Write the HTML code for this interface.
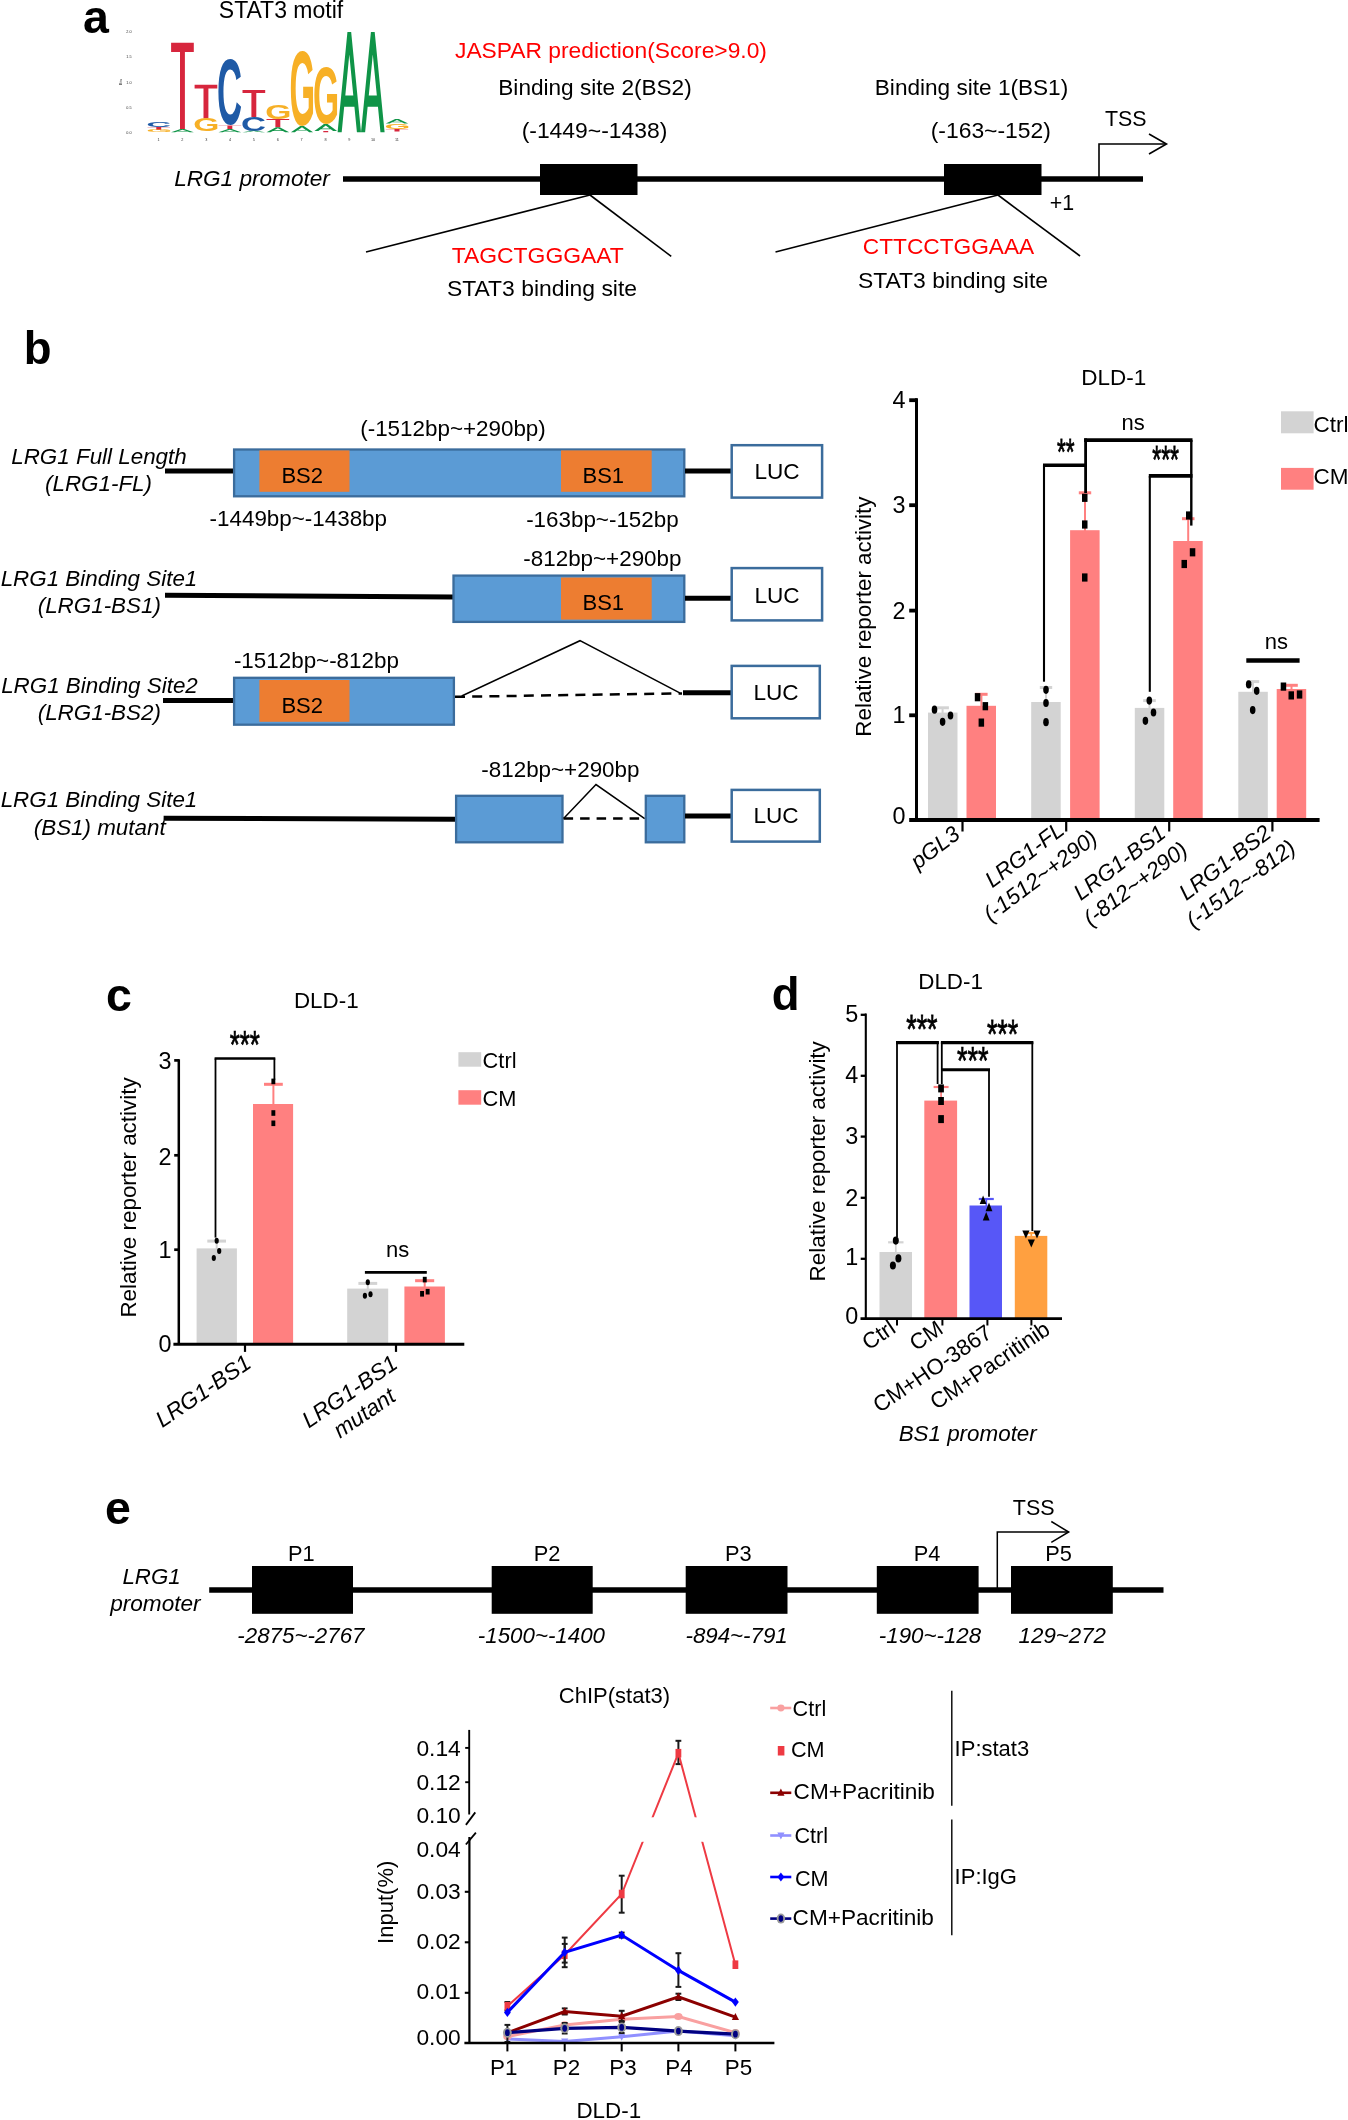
<!DOCTYPE html>
<html>
<head>
<meta charset="utf-8">
<title>LRG1 promoter STAT3 binding figure</title>
<style>
html,body{margin:0;padding:0;background:#fff;}
body{width:1348px;height:2120px;overflow:hidden;}
svg{display:block;font-family:"Liberation Sans",sans-serif;will-change:transform;}
</style>
</head>
<body>
<svg width="1348" height="2120" viewBox="0 0 1348 2120" fill="#000">
<rect x="0" y="0" width="1348" height="2120" fill="#fff"/>
<!-- panel a -->
<text x="83.1" y="32.6" font-size="46.5" font-weight="bold">a</text>
<text x="281.0" y="17.5" font-size="23" text-anchor="middle">STAT3 motif</text>
<text transform="translate(146.13,126.93) scale(0.3435,0.0676)" font-size="100" font-weight="bold" fill="#1f5aa6">C</text>
<polygon points="147.5,127.0 170.0,127.0 170.0,127.3 161.2,127.3 161.2,130.0 156.3,130.0 156.3,127.3 147.5,127.3" fill="#d7263d"/>
<text transform="translate(146.17,132.17) scale(0.3333,0.0310)" font-size="100" font-weight="bold" fill="#f7b026">G</text>
<polygon points="171.1,42.7 193.8,42.7 193.8,52.0 184.9,52.0 184.9,129.0 180.0,129.0 180.0,52.0 171.1,52.0" fill="#d7263d"/>
<path d="M171.10,132.20 L180.63,129.00 L184.27,129.00 L193.80,132.20 L189.83,132.20 L187.42,131.39 L177.48,131.39 L175.07,132.20 Z M182.45,129.72 L186.33,131.03 L178.57,131.03 Z" fill="#0f9447" fill-rule="evenodd"/>
<polygon points="194.6,84.8 217.3,84.8 217.3,88.4 208.4,88.4 208.4,118.4 203.5,118.4 203.5,88.4 194.6,88.4" fill="#d7263d"/>
<text transform="translate(193.25,131.02) scale(0.3363,0.1803)" font-size="100" font-weight="bold" fill="#f7b026">G</text>
<text transform="translate(217.11,124.47) scale(0.3466,0.9268)" font-size="100" font-weight="bold" fill="#1f5aa6">C</text>
<polygon points="218.5,125.4 241.2,125.4 241.2,125.8 232.3,125.8 232.3,129.0 227.4,129.0 227.4,125.8 218.5,125.8" fill="#d7263d"/>
<path d="M218.50,132.20 L228.03,129.00 L231.67,129.00 L241.20,132.20 L237.23,132.20 L234.82,131.39 L224.88,131.39 L222.47,132.20 Z M229.85,129.72 L233.73,131.03 L225.97,131.03 Z" fill="#0f9447" fill-rule="evenodd"/>
<polygon points="242.5,90.1 265.2,90.1 265.2,93.0 256.3,93.0 256.3,117.1 251.4,117.1 251.4,93.0 242.5,93.0" fill="#d7263d"/>
<text transform="translate(241.11,130.61) scale(0.3466,0.1930)" font-size="100" font-weight="bold" fill="#1f5aa6">C</text>
<path d="M242.50,132.20 L252.03,130.80 L255.67,130.80 L265.20,132.20 L261.23,132.20 L258.82,131.85 L248.88,131.85 L246.47,132.20 Z M253.85,131.12 L257.73,131.69 L249.97,131.69 Z" fill="#0f9447" fill-rule="evenodd"/>
<text transform="translate(265.15,118.90) scale(0.3363,0.1986)" font-size="100" font-weight="bold" fill="#f7b026">G</text>
<polygon points="266.5,119.1 289.2,119.1 289.2,120.0 280.3,120.0 280.3,127.2 275.4,127.2 275.4,120.0 266.5,120.0" fill="#d7263d"/>
<path d="M266.50,132.20 L276.03,127.20 L279.67,127.20 L289.20,132.20 L285.23,132.20 L282.82,130.94 L272.88,130.94 L270.47,132.20 Z M277.85,128.33 L281.73,130.36 L273.97,130.36 Z" fill="#0f9447" fill-rule="evenodd"/>
<text transform="translate(289.58,124.85) scale(0.3289,1.0549)" font-size="100" font-weight="bold" fill="#f7b026">G</text>
<path d="M290.90,132.20 L300.22,125.90 L303.78,125.90 L313.10,132.20 L309.22,132.20 L306.86,130.61 L297.14,130.61 L294.78,132.20 Z M302.00,127.33 L305.79,129.89 L298.21,129.89 Z" fill="#0f9447" fill-rule="evenodd"/>
<text transform="translate(313.05,123.11) scale(0.3363,0.7887)" font-size="100" font-weight="bold" fill="#f7b026">G</text>
<path d="M314.40,131.00 L323.93,123.90 L327.57,123.90 L337.10,131.00 L333.13,131.00 L330.72,129.20 L320.78,129.20 L318.37,131.00 Z M325.75,125.51 L329.63,128.39 L321.87,128.39 Z" fill="#0f9447" fill-rule="evenodd"/>
<polygon points="314.4,131.0 337.1,131.0 337.1,131.1 328.2,131.1 328.2,132.2 323.3,132.2 323.3,131.1 314.4,131.1" fill="#d7263d"/>
<path d="M337.60,132.20 L347.43,31.90 L351.17,31.90 L361.00,132.20 L356.91,132.20 L354.42,106.82 L344.18,106.82 L341.69,132.20 Z M349.30,54.59 L353.30,95.39 L345.30,95.39 Z" fill="#0f9447" fill-rule="evenodd"/>
<path d="M361.00,132.20 L370.91,31.90 L374.69,31.90 L384.60,132.20 L380.47,132.20 L377.96,106.82 L367.64,106.82 L365.13,132.20 Z M372.80,54.59 L376.83,95.39 L368.77,95.39 Z" fill="#0f9447" fill-rule="evenodd"/>
<path d="M385.80,123.50 L395.21,118.90 L398.79,118.90 L408.20,123.50 L404.28,123.50 L401.90,122.34 L392.10,122.34 L389.72,123.50 Z M397.00,119.94 L400.83,121.81 L393.17,121.81 Z" fill="#0f9447" fill-rule="evenodd"/>
<text transform="translate(384.47,128.92) scale(0.3319,0.0775)" font-size="100" font-weight="bold" fill="#f7b026">G</text>
<polygon points="385.8,129.0 408.2,129.0 408.2,129.3 399.5,129.3 399.5,131.5 394.5,131.5 394.5,129.3 385.8,129.3" fill="#d7263d"/>
<text x="129.0" y="134.0" font-size="3.8" text-anchor="middle" fill="#333">0.0</text>
<text x="129.0" y="108.8" font-size="3.8" text-anchor="middle" fill="#333">0.5</text>
<text x="129.0" y="83.6" font-size="3.8" text-anchor="middle" fill="#333">1.0</text>
<text x="129.0" y="58.4" font-size="3.8" text-anchor="middle" fill="#333">1.5</text>
<text x="129.0" y="33.2" font-size="3.8" text-anchor="middle" fill="#333">2.0</text>
<text transform="translate(122,82) rotate(-90)" font-size="3.8" text-anchor="middle" fill="#333">Bits</text>
<text x="158.5" y="141.0" font-size="3.8" text-anchor="middle" fill="#333">1</text>
<text x="182.3" y="141.0" font-size="3.8" text-anchor="middle" fill="#333">2</text>
<text x="206.2" y="141.0" font-size="3.8" text-anchor="middle" fill="#333">3</text>
<text x="230.1" y="141.0" font-size="3.8" text-anchor="middle" fill="#333">4</text>
<text x="253.9" y="141.0" font-size="3.8" text-anchor="middle" fill="#333">5</text>
<text x="277.8" y="141.0" font-size="3.8" text-anchor="middle" fill="#333">6</text>
<text x="301.6" y="141.0" font-size="3.8" text-anchor="middle" fill="#333">7</text>
<text x="325.5" y="141.0" font-size="3.8" text-anchor="middle" fill="#333">8</text>
<text x="349.3" y="141.0" font-size="3.8" text-anchor="middle" fill="#333">9</text>
<text x="373.1" y="141.0" font-size="3.8" text-anchor="middle" fill="#333">10</text>
<text x="397.0" y="141.0" font-size="3.8" text-anchor="middle" fill="#333">11</text>
<text x="455.0" y="57.5" font-size="22.8" fill="#ff0000">JASPAR prediction(Score&gt;9.0)</text>
<text x="595.0" y="95.0" font-size="22.6" text-anchor="middle">Binding site 2(BS2)</text>
<text x="594.5" y="137.5" font-size="22.9" text-anchor="middle">(-1449~-1438)</text>
<text x="971.5" y="95.0" font-size="22.6" text-anchor="middle">Binding site 1(BS1)</text>
<text x="990.8" y="137.5" font-size="22.9" text-anchor="middle">(-163~-152)</text>
<text x="1125.8" y="126.0" font-size="21.4" text-anchor="middle">TSS</text>
<text x="1062.0" y="210.0" font-size="21.4" text-anchor="middle">+1</text>
<text x="252.0" y="186.0" font-size="22.6" text-anchor="middle" font-style="italic">LRG1 promoter</text>
<line x1="343.0" y1="179.0" x2="1143.0" y2="179.0" stroke="#000" stroke-width="5.5"/>
<rect x="540.0" y="164.0" width="97.5" height="31.0" fill="#000"/>
<rect x="944.0" y="164.0" width="97.5" height="31.0" fill="#000"/>
<line x1="590.0" y1="195.0" x2="366.0" y2="252.0" stroke="#000" stroke-width="1.6"/>
<line x1="590.0" y1="195.0" x2="671.2" y2="256.3" stroke="#000" stroke-width="1.6"/>
<line x1="998.0" y1="195.0" x2="775.5" y2="252.0" stroke="#000" stroke-width="1.6"/>
<line x1="998.0" y1="195.0" x2="1080.0" y2="256.0" stroke="#000" stroke-width="1.6"/>
<polyline points="1099.0,179.0 1099.0,144.0 1166.0,144.0" fill="none" stroke="#000" stroke-width="1.6"/>
<polyline points="1149.0,134.0 1166.5,144.0 1149.0,154.0" fill="none" stroke="#000" stroke-width="1.6"/>
<text x="537.8" y="262.5" font-size="22.9" text-anchor="middle" fill="#ff0000">TAGCTGGGAAT</text>
<text x="542.0" y="296.2" font-size="22.9" text-anchor="middle">STAT3 binding site</text>
<text x="948.5" y="254.0" font-size="22.7" text-anchor="middle" fill="#ff0000">CTTCCTGGAAA</text>
<text x="953.0" y="287.5" font-size="22.9" text-anchor="middle">STAT3 binding site</text>
<!-- panel b -->
<text x="23.7" y="364.1" font-size="45.5" font-weight="bold">b</text>
<text x="99.0" y="464.0" font-size="22.4" text-anchor="middle" font-style="italic">LRG1 Full Length</text>
<text x="98.5" y="491.0" font-size="22.4" text-anchor="middle" font-style="italic">(LRG1-FL)</text>
<line x1="165.0" y1="471.0" x2="234.0" y2="471.0" stroke="#000" stroke-width="5"/>
<rect x="234.1" y="449.5" width="450.2" height="46.8" fill="#5b9bd5" stroke="#3b6c9c" stroke-width="2.3"/>
<rect x="259.4" y="450.4" width="90.1" height="41.4" fill="#ed7d31"/>
<text x="302.2" y="483.4" font-size="22" text-anchor="middle">BS2</text>
<rect x="561.0" y="450.4" width="90.7" height="41.4" fill="#ed7d31"/>
<text x="603.3" y="482.6" font-size="22" text-anchor="middle">BS1</text>
<text x="453.0" y="435.5" font-size="22.4" text-anchor="middle">(-1512bp~+290bp)</text>
<text x="298.3" y="526.0" font-size="22.4" text-anchor="middle">-1449bp~-1438bp</text>
<text x="602.4" y="526.6" font-size="22.4" text-anchor="middle">-163bp~-152bp</text>
<line x1="685.0" y1="471.0" x2="731.0" y2="471.0" stroke="#000" stroke-width="5"/>
<rect x="731.7" y="445.2" width="90.4" height="52.4" fill="#fff" stroke="#3b6c9c" stroke-width="2.5"/>
<text x="777.1" y="479.4" font-size="22.6" text-anchor="middle">LUC</text>
<text x="99.0" y="585.7" font-size="22.4" text-anchor="middle" font-style="italic">LRG1 Binding Site1</text>
<text x="99.3" y="612.7" font-size="22.4" text-anchor="middle" font-style="italic">(LRG1-BS1)</text>
<line x1="165.0" y1="595.3" x2="453.0" y2="597.0" stroke="#000" stroke-width="5"/>
<text x="602.4" y="565.5" font-size="22.4" text-anchor="middle">-812bp~+290bp</text>
<rect x="453.5" y="575.6" width="230.8" height="46.3" fill="#5b9bd5" stroke="#3b6c9c" stroke-width="2.3"/>
<rect x="561.0" y="577.5" width="90.7" height="42.1" fill="#ed7d31"/>
<text x="603.3" y="610.3" font-size="22" text-anchor="middle">BS1</text>
<line x1="685.0" y1="598.3" x2="731.0" y2="598.3" stroke="#000" stroke-width="5"/>
<rect x="731.7" y="568.1" width="90.4" height="52.3" fill="#fff" stroke="#3b6c9c" stroke-width="2.5"/>
<text x="777.1" y="603.0" font-size="22.6" text-anchor="middle">LUC</text>
<text x="316.4" y="668.4" font-size="22.4" text-anchor="middle">-1512bp~-812bp</text>
<text x="99.5" y="692.8" font-size="22.4" text-anchor="middle" font-style="italic">LRG1 Binding Site2</text>
<text x="99.3" y="720.0" font-size="22.4" text-anchor="middle" font-style="italic">(LRG1-BS2)</text>
<line x1="163.0" y1="700.4" x2="234.0" y2="700.4" stroke="#000" stroke-width="5"/>
<rect x="234.1" y="677.8" width="219.8" height="46.9" fill="#5b9bd5" stroke="#3b6c9c" stroke-width="2.3"/>
<rect x="259.4" y="680.0" width="90.1" height="41.8" fill="#ed7d31"/>
<text x="302.2" y="712.5" font-size="22" text-anchor="middle">BS2</text>
<line x1="455.0" y1="696.8" x2="682.0" y2="693.4" stroke="#000" stroke-width="2.5" stroke-dasharray="10 7.2"/>
<polyline points="461.7,696.0 580.0,640.7 679.7,692.8" fill="none" stroke="#000" stroke-width="1.5"/>
<line x1="683.0" y1="692.8" x2="731.0" y2="692.8" stroke="#000" stroke-width="5"/>
<rect x="731.7" y="665.9" width="88.1" height="52.4" fill="#fff" stroke="#3b6c9c" stroke-width="2.5"/>
<text x="776.0" y="700.0" font-size="22.6" text-anchor="middle">LUC</text>
<text x="560.4" y="776.9" font-size="22.4" text-anchor="middle">-812bp~+290bp</text>
<text x="99.0" y="806.9" font-size="22.4" text-anchor="middle" font-style="italic">LRG1 Binding Site1</text>
<text x="99.7" y="835.0" font-size="22.4" text-anchor="middle" font-style="italic">(BS1) mutant</text>
<line x1="163.6" y1="818.2" x2="456.0" y2="819.3" stroke="#000" stroke-width="5"/>
<rect x="456.1" y="795.8" width="106.4" height="46.5" fill="#5b9bd5" stroke="#3b6c9c" stroke-width="2.3"/>
<polyline points="563.6,818.6 596.0,784.6 644.7,818.6" fill="none" stroke="#000" stroke-width="1.5"/>
<line x1="563.6" y1="818.6" x2="644.7" y2="818.6" stroke="#000" stroke-width="2.5" stroke-dasharray="9.5 7"/>
<rect x="645.8" y="795.8" width="38.5" height="46.5" fill="#5b9bd5" stroke="#3b6c9c" stroke-width="2.3"/>
<line x1="685.0" y1="816.0" x2="731.0" y2="816.0" stroke="#000" stroke-width="5"/>
<rect x="731.7" y="789.9" width="88.1" height="51.7" fill="#fff" stroke="#3b6c9c" stroke-width="2.5"/>
<text x="776.0" y="822.7" font-size="22.6" text-anchor="middle">LUC</text>
<!-- panel b chart -->
<text x="1113.8" y="384.6" font-size="22.5" text-anchor="middle">DLD-1</text>
<text transform="translate(870.5,616.6) rotate(-90)" font-size="22.4" text-anchor="middle">Relative reporter activity</text>
<rect x="928.0" y="712.6" width="29.5" height="106.4" fill="#d3d3d3"/>
<rect x="1031.2" y="702.0" width="29.5" height="117.0" fill="#d3d3d3"/>
<rect x="1134.8" y="707.9" width="29.5" height="111.1" fill="#d3d3d3"/>
<rect x="1238.3" y="691.8" width="29.5" height="127.2" fill="#d3d3d3"/>
<rect x="966.5" y="705.8" width="29.5" height="113.2" fill="#ff8080"/>
<rect x="1070.1" y="530.2" width="29.5" height="288.8" fill="#ff8080"/>
<rect x="1173.2" y="541.0" width="29.5" height="278.0" fill="#ff8080"/>
<rect x="1276.7" y="689.0" width="29.5" height="130.0" fill="#ff8080"/>
<line x1="942.6" y1="707.8" x2="942.6" y2="713.6" stroke="#d3d3d3" stroke-width="2"/>
<line x1="936.4" y1="707.8" x2="948.9" y2="707.8" stroke="#d3d3d3" stroke-width="3"/>
<line x1="981.4" y1="694.3" x2="981.4" y2="706.8" stroke="#ff8080" stroke-width="2"/>
<line x1="975.1" y1="694.3" x2="987.6" y2="694.3" stroke="#ff8080" stroke-width="3"/>
<line x1="1046.0" y1="687.5" x2="1046.0" y2="703.0" stroke="#d3d3d3" stroke-width="2"/>
<line x1="1039.8" y1="687.5" x2="1052.2" y2="687.5" stroke="#d3d3d3" stroke-width="3"/>
<line x1="1085.0" y1="492.8" x2="1085.0" y2="531.2" stroke="#ff8080" stroke-width="2"/>
<line x1="1078.8" y1="492.8" x2="1091.2" y2="492.8" stroke="#ff8080" stroke-width="3"/>
<line x1="1149.5" y1="700.6" x2="1149.5" y2="708.9" stroke="#d3d3d3" stroke-width="2"/>
<line x1="1143.2" y1="700.6" x2="1155.8" y2="700.6" stroke="#d3d3d3" stroke-width="3"/>
<line x1="1188.2" y1="518.7" x2="1188.2" y2="542.0" stroke="#ff8080" stroke-width="2"/>
<line x1="1182.0" y1="518.7" x2="1194.5" y2="518.7" stroke="#ff8080" stroke-width="3"/>
<line x1="1253.0" y1="681.6" x2="1253.0" y2="692.8" stroke="#d3d3d3" stroke-width="2"/>
<line x1="1246.8" y1="681.6" x2="1259.2" y2="681.6" stroke="#d3d3d3" stroke-width="3"/>
<line x1="1291.5" y1="685.3" x2="1291.5" y2="690.0" stroke="#ff8080" stroke-width="2"/>
<line x1="1285.2" y1="685.3" x2="1297.8" y2="685.3" stroke="#ff8080" stroke-width="3"/>
<line x1="916.5" y1="398.2" x2="916.5" y2="820.0" stroke="#000" stroke-width="3"/>
<line x1="909.2" y1="400.2" x2="917.0" y2="400.2" stroke="#000" stroke-width="3.8"/>
<line x1="909.2" y1="505.2" x2="917.0" y2="505.2" stroke="#000" stroke-width="3.8"/>
<line x1="909.2" y1="610.6" x2="917.0" y2="610.6" stroke="#000" stroke-width="3.8"/>
<line x1="909.2" y1="715.3" x2="917.0" y2="715.3" stroke="#000" stroke-width="3.8"/>
<line x1="909.2" y1="820.0" x2="1319.6" y2="820.0" stroke="#000" stroke-width="4.2"/>
<line x1="962.5" y1="821.0" x2="962.5" y2="831.5" stroke="#000" stroke-width="2.2"/>
<line x1="1066.2" y1="821.0" x2="1066.2" y2="831.5" stroke="#000" stroke-width="2.2"/>
<line x1="1169.2" y1="821.0" x2="1169.2" y2="831.5" stroke="#000" stroke-width="2.2"/>
<line x1="1272.4" y1="821.0" x2="1272.4" y2="831.5" stroke="#000" stroke-width="2.2"/>
<text x="905.6" y="408.2" font-size="23.4" text-anchor="end">4</text>
<text x="905.6" y="513.2" font-size="23.4" text-anchor="end">3</text>
<text x="905.6" y="618.7" font-size="23.4" text-anchor="end">2</text>
<text x="905.6" y="723.3" font-size="23.4" text-anchor="end">1</text>
<text x="905.6" y="823.6" font-size="23.4" text-anchor="end">0</text>
<ellipse cx="934.5" cy="709.7" rx="2.8" ry="4.1" fill="#000"/>
<ellipse cx="950.5" cy="715.5" rx="2.8" ry="4.1" fill="#000"/>
<ellipse cx="942.6" cy="721.8" rx="2.8" ry="4.1" fill="#000"/>
<ellipse cx="1046.0" cy="689.8" rx="2.8" ry="4.1" fill="#000"/>
<ellipse cx="1046.0" cy="703.0" rx="2.8" ry="4.1" fill="#000"/>
<ellipse cx="1046.0" cy="722.2" rx="2.8" ry="4.1" fill="#000"/>
<ellipse cx="1149.3" cy="700.6" rx="2.8" ry="4.1" fill="#000"/>
<ellipse cx="1153.5" cy="712.5" rx="2.8" ry="4.1" fill="#000"/>
<ellipse cx="1145.4" cy="720.8" rx="2.8" ry="4.1" fill="#000"/>
<ellipse cx="1248.7" cy="684.4" rx="2.8" ry="4.1" fill="#000"/>
<ellipse cx="1256.7" cy="690.8" rx="2.8" ry="4.1" fill="#000"/>
<ellipse cx="1252.7" cy="710.1" rx="2.8" ry="4.1" fill="#000"/>
<rect x="974.8" y="693.1" width="5.5" height="8.2" fill="#000"/>
<rect x="982.6" y="702.1" width="5.5" height="8.2" fill="#000"/>
<rect x="978.6" y="718.5" width="5.5" height="8.2" fill="#000"/>
<rect x="1082.0" y="493.7" width="5.5" height="8.2" fill="#000"/>
<rect x="1082.0" y="520.4" width="5.5" height="8.2" fill="#000"/>
<rect x="1082.0" y="573.4" width="5.5" height="8.2" fill="#000"/>
<rect x="1186.0" y="511.4" width="5.5" height="8.2" fill="#000"/>
<rect x="1189.8" y="548.2" width="5.5" height="8.2" fill="#000"/>
<rect x="1181.5" y="559.9" width="5.5" height="8.2" fill="#000"/>
<rect x="1280.7" y="682.5" width="5.5" height="8.2" fill="#000"/>
<rect x="1288.5" y="691.3" width="5.5" height="8.2" fill="#000"/>
<rect x="1296.8" y="690.4" width="5.5" height="8.2" fill="#000"/>
<line x1="1043.0" y1="465.2" x2="1086.6" y2="465.2" stroke="#000" stroke-width="3.6"/>
<line x1="1044.0" y1="465.0" x2="1044.0" y2="681.7" stroke="#000" stroke-width="2.1"/>
<line x1="1085.6" y1="438.4" x2="1085.6" y2="493.0" stroke="#000" stroke-width="2.8"/>
<line x1="1084.1" y1="440.2" x2="1192.5" y2="440.2" stroke="#000" stroke-width="3.7"/>
<line x1="1191.3" y1="440.0" x2="1191.3" y2="525.6" stroke="#000" stroke-width="2.4"/>
<line x1="1148.8" y1="475.9" x2="1192.5" y2="475.9" stroke="#000" stroke-width="3.6"/>
<line x1="1149.8" y1="476.0" x2="1149.8" y2="691.8" stroke="#000" stroke-width="2.1"/>
<text transform="translate(1056.9,465.4) scale(1,1.628)" font-size="22.62" stroke="#000" stroke-width="0.5">**</text>
<text transform="translate(1152.3,473.3) scale(1,1.685)" font-size="22.89" stroke="#000" stroke-width="0.5">***</text>
<text x="1133.2" y="430.0" font-size="22" text-anchor="middle">ns</text>
<text x="1276.3" y="648.5" font-size="22" text-anchor="middle">ns</text>
<line x1="1246.3" y1="660.5" x2="1299.6" y2="660.5" stroke="#000" stroke-width="4.5"/>
<rect x="1281.0" y="411.3" width="32.6" height="22.0" fill="#d3d3d3"/>
<text x="1313.4" y="431.8" font-size="22.5">Ctrl</text>
<rect x="1281.0" y="467.9" width="32.6" height="21.8" fill="#ff8080"/>
<text x="1313.4" y="484.4" font-size="22.5">CM</text>
<g transform="translate(961.4,837.0) rotate(-37)" font-size="22.4" font-style="italic">
<text x="0" y="0" text-anchor="end">pGL3</text>
</g>
<g transform="translate(1065.7,833.0) rotate(-37)" font-size="22.4" font-style="italic">
<text x="0" y="0" text-anchor="end">LRG1-FL</text>
<text x="-46.1" y="26.5" text-anchor="middle">(-1512~+290)</text>
</g>
<g transform="translate(1167.3,836.1) rotate(-37)" font-size="22.4" font-style="italic">
<text x="0" y="0" text-anchor="end">LRG1-BS1</text>
<text x="-54.2" y="26.5" text-anchor="middle">(-812~+290)</text>
</g>
<g transform="translate(1272.7,836.0) rotate(-37)" font-size="22.4" font-style="italic">
<text x="0" y="0" text-anchor="end">LRG1-BS2</text>
<text x="-54.2" y="26.5" text-anchor="middle">(-1512~-812)</text>
</g>
<!-- panel c -->
<text x="105.9" y="1010.8" font-size="46.5" font-weight="bold">c</text>
<text x="326.3" y="1008.0" font-size="22.4" text-anchor="middle">DLD-1</text>
<text transform="translate(135.6,1197.5) rotate(-90)" font-size="22.4" text-anchor="middle">Relative reporter activity</text>
<rect x="196.6" y="1248.4" width="40.3" height="94.6" fill="#d3d3d3"/>
<rect x="253.0" y="1104.0" width="40.1" height="239.0" fill="#ff8080"/>
<rect x="347.2" y="1288.6" width="41.0" height="54.4" fill="#d3d3d3"/>
<rect x="404.4" y="1286.5" width="40.5" height="56.5" fill="#ff8080"/>
<line x1="216.7" y1="1241.1" x2="216.7" y2="1249.4" stroke="#d3d3d3" stroke-width="2.0"/>
<line x1="207.3" y1="1241.1" x2="226.0" y2="1241.1" stroke="#d3d3d3" stroke-width="3.0"/>
<line x1="273.4" y1="1084.3" x2="273.4" y2="1105.0" stroke="#ff8080" stroke-width="2.0"/>
<line x1="264.0" y1="1084.3" x2="282.8" y2="1084.3" stroke="#ff8080" stroke-width="3.0"/>
<line x1="367.8" y1="1283.4" x2="367.8" y2="1289.6" stroke="#d3d3d3" stroke-width="2.0"/>
<line x1="358.4" y1="1283.4" x2="377.2" y2="1283.4" stroke="#d3d3d3" stroke-width="3.0"/>
<line x1="424.7" y1="1280.7" x2="424.7" y2="1287.5" stroke="#ff8080" stroke-width="2.0"/>
<line x1="415.1" y1="1280.7" x2="434.2" y2="1280.7" stroke="#ff8080" stroke-width="3.0"/>
<line x1="178.8" y1="1059.2" x2="178.8" y2="1344.0" stroke="#000" stroke-width="2.5"/>
<line x1="174.2" y1="1060.4" x2="179.0" y2="1060.4" stroke="#000" stroke-width="2.7"/>
<line x1="174.2" y1="1155.3" x2="179.0" y2="1155.3" stroke="#000" stroke-width="2.7"/>
<line x1="174.2" y1="1249.7" x2="179.0" y2="1249.7" stroke="#000" stroke-width="2.7"/>
<line x1="173.4" y1="1344.2" x2="464.3" y2="1344.2" stroke="#000" stroke-width="2.9"/>
<line x1="245.0" y1="1345.0" x2="245.0" y2="1351.9" stroke="#000" stroke-width="2.2"/>
<line x1="396.0" y1="1345.0" x2="396.0" y2="1351.9" stroke="#000" stroke-width="2.2"/>
<text x="171.6" y="1068.8" font-size="23.4" text-anchor="end">3</text>
<text x="171.6" y="1165.0" font-size="23.4" text-anchor="end">2</text>
<text x="171.6" y="1257.9" font-size="23.4" text-anchor="end">1</text>
<text x="171.6" y="1352.2" font-size="23.4" text-anchor="end">0</text>
<ellipse cx="216.7" cy="1240.7" rx="2.1" ry="3.0" fill="#000"/>
<ellipse cx="219.2" cy="1251.0" rx="2.1" ry="3.0" fill="#000"/>
<ellipse cx="213.8" cy="1258.0" rx="2.1" ry="3.0" fill="#000"/>
<ellipse cx="367.8" cy="1282.3" rx="2.1" ry="3.0" fill="#000"/>
<ellipse cx="364.9" cy="1295.8" rx="2.1" ry="3.0" fill="#000"/>
<ellipse cx="370.5" cy="1294.2" rx="2.1" ry="3.0" fill="#000"/>
<rect x="271.4" y="1078.6" width="3.9" height="5.6" fill="#000"/>
<rect x="271.4" y="1110.2" width="3.9" height="5.6" fill="#000"/>
<rect x="271.4" y="1120.5" width="3.9" height="5.6" fill="#000"/>
<rect x="422.8" y="1276.8" width="3.9" height="5.6" fill="#000"/>
<rect x="420.1" y="1291.0" width="3.9" height="5.6" fill="#000"/>
<rect x="425.7" y="1288.9" width="3.9" height="5.6" fill="#000"/>
<line x1="214.6" y1="1058.5" x2="275.3" y2="1058.5" stroke="#000" stroke-width="2.5"/>
<line x1="215.5" y1="1058.5" x2="215.5" y2="1237.6" stroke="#000" stroke-width="1.8"/>
<line x1="274.4" y1="1058.5" x2="274.4" y2="1079.7" stroke="#000" stroke-width="1.8"/>
<text transform="translate(229.7,1057.8) scale(1,1.488)" font-size="25.91" stroke="#000" stroke-width="0.5">***</text>
<text x="397.7" y="1257.4" font-size="22" text-anchor="middle">ns</text>
<line x1="364.9" y1="1272.4" x2="426.8" y2="1272.4" stroke="#000" stroke-width="2.9"/>
<rect x="458.4" y="1052.2" width="22.8" height="14.5" fill="#d3d3d3"/>
<text x="482.6" y="1068.2" font-size="21.8">Ctrl</text>
<rect x="458.4" y="1090.2" width="22.8" height="14.5" fill="#ff8080"/>
<text x="482.6" y="1105.6" font-size="21.8">CM</text>
<g transform="translate(252.8,1366.4) rotate(-34.3)" font-size="22.7" font-style="italic">
<text x="0" y="0" text-anchor="end">LRG1-BS1</text>
</g>
<g transform="translate(399.3,1366.9) rotate(-34.3)" font-size="22.7" font-style="italic">
<text x="0" y="0" text-anchor="end">LRG1-BS1</text>
<text x="-54.9" y="26" text-anchor="middle">mutant</text>
</g>
<!-- panel d -->
<text x="771.7" y="1010.2" font-size="45.5" font-weight="bold">d</text>
<text x="950.6" y="989.0" font-size="22.4" text-anchor="middle">DLD-1</text>
<text transform="translate(825.4,1161.3) rotate(-90)" font-size="22.4" text-anchor="middle">Relative reporter activity</text>
<rect x="879.5" y="1252.0" width="32.5" height="66.0" fill="#d3d3d3"/>
<rect x="924.3" y="1100.6" width="32.8" height="217.4" fill="#ff8080"/>
<rect x="969.5" y="1205.5" width="32.5" height="112.5" fill="#5757f7"/>
<rect x="1014.8" y="1235.9" width="32.5" height="82.1" fill="#ffa040"/>
<line x1="895.8" y1="1242.3" x2="895.8" y2="1253.0" stroke="#d3d3d3" stroke-width="1.7"/>
<line x1="888.1" y1="1242.3" x2="903.5" y2="1242.3" stroke="#d3d3d3" stroke-width="2.2"/>
<line x1="941.1" y1="1087.0" x2="941.1" y2="1101.6" stroke="#ff8080" stroke-width="1.7"/>
<line x1="933.6" y1="1087.0" x2="948.6" y2="1087.0" stroke="#ff8080" stroke-width="2.2"/>
<line x1="986.3" y1="1199.0" x2="986.3" y2="1206.5" stroke="#5757f7" stroke-width="1.7"/>
<line x1="978.8" y1="1199.0" x2="993.8" y2="1199.0" stroke="#5757f7" stroke-width="2.2"/>
<line x1="1031.3" y1="1233.0" x2="1031.3" y2="1236.9" stroke="#ffa040" stroke-width="1.7"/>
<line x1="1023.8" y1="1233.0" x2="1038.8" y2="1233.0" stroke="#ffa040" stroke-width="2.2"/>
<line x1="865.8" y1="1013.6" x2="865.8" y2="1318.7" stroke="#000" stroke-width="2.1"/>
<line x1="860.7" y1="1014.8" x2="866.0" y2="1014.8" stroke="#000" stroke-width="2.3"/>
<line x1="860.7" y1="1075.8" x2="866.0" y2="1075.8" stroke="#000" stroke-width="2.3"/>
<line x1="860.7" y1="1136.6" x2="866.0" y2="1136.6" stroke="#000" stroke-width="2.3"/>
<line x1="860.7" y1="1197.8" x2="866.0" y2="1197.8" stroke="#000" stroke-width="2.3"/>
<line x1="860.7" y1="1258.8" x2="866.0" y2="1258.8" stroke="#000" stroke-width="2.3"/>
<line x1="860.5" y1="1318.7" x2="1062.0" y2="1318.7" stroke="#000" stroke-width="2.7"/>
<line x1="897.0" y1="1319.0" x2="897.0" y2="1325.5" stroke="#000" stroke-width="2"/>
<line x1="942.4" y1="1319.0" x2="942.4" y2="1325.5" stroke="#000" stroke-width="2"/>
<line x1="987.4" y1="1319.0" x2="987.4" y2="1325.5" stroke="#000" stroke-width="2"/>
<line x1="1031.4" y1="1319.0" x2="1031.4" y2="1325.5" stroke="#000" stroke-width="2"/>
<text x="858.3" y="1022.3" font-size="23.4" text-anchor="end">5</text>
<text x="858.3" y="1082.5" font-size="23.4" text-anchor="end">4</text>
<text x="858.3" y="1144.4" font-size="23.4" text-anchor="end">3</text>
<text x="858.3" y="1205.7" font-size="23.4" text-anchor="end">2</text>
<text x="858.3" y="1265.0" font-size="23.4" text-anchor="end">1</text>
<text x="858.3" y="1324.0" font-size="23.4" text-anchor="end">0</text>
<ellipse cx="895.8" cy="1240.6" rx="3.0" ry="4.1" fill="#000"/>
<ellipse cx="898.4" cy="1258.4" rx="3.0" ry="4.1" fill="#000"/>
<ellipse cx="892.9" cy="1265.5" rx="3.0" ry="4.1" fill="#000"/>
<rect x="938.2" y="1084.4" width="5.7" height="8.0" fill="#000"/>
<rect x="938.2" y="1097.0" width="5.7" height="8.0" fill="#000"/>
<rect x="938.2" y="1115.1" width="5.7" height="8.0" fill="#000"/>
<polygon points="983.1,1195.5 986.5,1204.1 979.7,1204.1" fill="#000"/>
<polygon points="989.0,1202.6 992.4,1211.2 985.6,1211.2" fill="#000"/>
<polygon points="986.2,1212.0 989.6,1220.6 982.8,1220.6" fill="#000"/>
<polygon points="1022.3,1230.4 1029.5,1230.4 1025.9,1238.6" fill="#000"/>
<polygon points="1033.4,1230.4 1040.6,1230.4 1037.0,1238.6" fill="#000"/>
<polygon points="1027.7,1239.4 1034.9,1239.4 1031.3,1247.6" fill="#000"/>
<line x1="896.0" y1="1042.6" x2="938.9" y2="1042.6" stroke="#000" stroke-width="3.1"/>
<line x1="940.9" y1="1042.6" x2="1033.4" y2="1042.6" stroke="#000" stroke-width="3.1"/>
<line x1="897.0" y1="1042.0" x2="897.0" y2="1237.0" stroke="#000" stroke-width="1.8"/>
<line x1="937.6" y1="1042.0" x2="937.6" y2="1084.0" stroke="#000" stroke-width="1.8"/>
<line x1="941.8" y1="1042.0" x2="941.8" y2="1084.0" stroke="#000" stroke-width="1.8"/>
<line x1="1032.3" y1="1042.0" x2="1032.3" y2="1231.0" stroke="#000" stroke-width="1.8"/>
<line x1="941.0" y1="1069.8" x2="990.0" y2="1069.8" stroke="#000" stroke-width="3.0"/>
<line x1="989.0" y1="1069.2" x2="989.0" y2="1196.7" stroke="#000" stroke-width="1.8"/>
<text transform="translate(906.2,1043.0) scale(1,1.509)" font-size="26.89" stroke="#000" stroke-width="0.5">***</text>
<text transform="translate(986.9,1047.7) scale(1,1.509)" font-size="26.89" stroke="#000" stroke-width="0.5">***</text>
<text transform="translate(957.0,1073.7) scale(1,1.424)" font-size="27.07" stroke="#000" stroke-width="0.5">***</text>
<g transform="translate(897.0,1331.5) rotate(-34)" font-size="22.2">
<text x="0" y="0" text-anchor="end">Ctrl</text>
</g>
<g transform="translate(944.5,1332.2) rotate(-34)" font-size="22.2">
<text x="0" y="0" text-anchor="end">CM</text>
</g>
<g transform="translate(993.5,1336.3) rotate(-34)" font-size="22.2">
<text x="0" y="0" text-anchor="end">CM+HO-3867</text>
</g>
<g transform="translate(1051.5,1332.8) rotate(-34)" font-size="22.2">
<text x="0" y="0" text-anchor="end">CM+Pacritinib</text>
</g>
<text x="967.7" y="1440.8" font-size="22.4" text-anchor="middle" font-style="italic">BS1 promoter</text>
<!-- panel e -->
<text x="105.0" y="1524.3" font-size="46.5" font-weight="bold">e</text>
<text x="151.5" y="1583.9" font-size="22.3" text-anchor="middle" font-style="italic">LRG1</text>
<text x="155.4" y="1610.9" font-size="22.6" text-anchor="middle" font-style="italic">promoter</text>
<line x1="209.2" y1="1590.0" x2="1163.5" y2="1590.0" stroke="#000" stroke-width="5.5"/>
<rect x="252.0" y="1566.0" width="101.0" height="47.8" fill="#000"/>
<text x="301.3" y="1561.0" font-size="21.8" text-anchor="middle">P1</text>
<text x="300.9" y="1643.3" font-size="22.3" text-anchor="middle" font-style="italic">-2875~-2767</text>
<rect x="491.7" y="1566.0" width="101.0" height="47.8" fill="#000"/>
<text x="547.0" y="1561.0" font-size="21.8" text-anchor="middle">P2</text>
<text x="541.4" y="1643.3" font-size="22.3" text-anchor="middle" font-style="italic">-1500~-1400</text>
<rect x="685.7" y="1566.0" width="101.8" height="47.8" fill="#000"/>
<text x="738.3" y="1561.0" font-size="21.8" text-anchor="middle">P3</text>
<text x="736.6" y="1643.3" font-size="22.3" text-anchor="middle" font-style="italic">-894~-791</text>
<rect x="876.8" y="1566.0" width="101.8" height="47.8" fill="#000"/>
<text x="927.1" y="1561.0" font-size="21.8" text-anchor="middle">P4</text>
<text x="930.0" y="1643.3" font-size="22.3" text-anchor="middle" font-style="italic">-190~-128</text>
<rect x="1011.0" y="1566.0" width="101.8" height="47.8" fill="#000"/>
<text x="1058.6" y="1561.0" font-size="21.8" text-anchor="middle">P5</text>
<text x="1062.3" y="1643.3" font-size="22.3" text-anchor="middle" font-style="italic">129~272</text>
<polyline points="997.3,1590.0 997.3,1532.0 1068.5,1532.0" fill="none" stroke="#000" stroke-width="1.5"/>
<polyline points="1051.3,1521.5 1068.7,1532.0 1051.3,1542.3" fill="none" stroke="#000" stroke-width="1.5"/>
<text x="1033.7" y="1515.3" font-size="21.5" text-anchor="middle">TSS</text>
<!-- panel e chart -->
<text x="614.5" y="1703.4" font-size="22" text-anchor="middle">ChIP(stat3)</text>
<text transform="translate(392.6,1902.3) rotate(-90)" font-size="22" text-anchor="middle">Input(%)</text>
<text x="608.8" y="2118.3" font-size="22.4" text-anchor="middle">DLD-1</text>
<text x="503.8" y="2074.7" font-size="22.4" text-anchor="middle">P1</text>
<text x="566.4" y="2074.7" font-size="22.4" text-anchor="middle">P2</text>
<text x="623.0" y="2074.7" font-size="22.4" text-anchor="middle">P3</text>
<text x="679.0" y="2074.7" font-size="22.4" text-anchor="middle">P4</text>
<text x="738.4" y="2074.7" font-size="22.4" text-anchor="middle">P5</text>
<polyline points="507.4,2038.9 564.7,2041.4 621.7,2036.7 678.4,2031.1 735.4,2035.8" fill="none" stroke="#9090ff" stroke-width="3"/>
<polygon points="503.8,2035.9 511.0,2035.9 507.4,2042.9" fill="#9090ff"/>
<polygon points="561.1,2038.4 568.3,2038.4 564.7,2045.4" fill="#9090ff"/>
<polygon points="618.1,2033.7 625.3,2033.7 621.7,2040.7" fill="#9090ff"/>
<polygon points="674.8,2028.1 682.0,2028.1 678.4,2035.1" fill="#9090ff"/>
<polygon points="731.8,2032.8 739.0,2032.8 735.4,2039.8" fill="#9090ff"/>
<polyline points="507.4,2036.5 564.7,2024.9 621.7,2019.3 678.4,2016.5 735.4,2032.7" fill="none" stroke="#f9a0a0" stroke-width="3"/>
<ellipse cx="507.4" cy="2036.5" rx="4.2" ry="3.6" fill="#f9a0a0"/>
<ellipse cx="564.7" cy="2024.9" rx="4.2" ry="3.6" fill="#f9a0a0"/>
<ellipse cx="621.7" cy="2019.3" rx="4.2" ry="3.6" fill="#f9a0a0"/>
<ellipse cx="678.4" cy="2016.5" rx="4.2" ry="3.6" fill="#f9a0a0"/>
<ellipse cx="735.4" cy="2032.7" rx="4.2" ry="3.6" fill="#f9a0a0"/>
<line x1="564.7" y1="2008.4" x2="564.7" y2="2014.5" stroke="#1a1a1a" stroke-width="2.0"/>
<line x1="561.8" y1="2008.4" x2="567.6" y2="2008.4" stroke="#1a1a1a" stroke-width="2.0"/>
<line x1="561.8" y1="2014.5" x2="567.6" y2="2014.5" stroke="#1a1a1a" stroke-width="2.0"/>
<line x1="621.7" y1="2010.8" x2="621.7" y2="2021.0" stroke="#1a1a1a" stroke-width="2.0"/>
<line x1="618.8" y1="2010.8" x2="624.6" y2="2010.8" stroke="#1a1a1a" stroke-width="2.0"/>
<line x1="618.8" y1="2021.0" x2="624.6" y2="2021.0" stroke="#1a1a1a" stroke-width="2.0"/>
<line x1="678.4" y1="1993.7" x2="678.4" y2="2000.0" stroke="#1a1a1a" stroke-width="2.0"/>
<line x1="675.5" y1="1993.7" x2="681.3" y2="1993.7" stroke="#1a1a1a" stroke-width="2.0"/>
<line x1="675.5" y1="2000.0" x2="681.3" y2="2000.0" stroke="#1a1a1a" stroke-width="2.0"/>
<polyline points="507.4,2032.7 564.7,2011.5 621.7,2016.2 678.4,1996.8 735.4,2017.1" fill="none" stroke="#8b0000" stroke-width="3"/>
<polygon points="507.4,2028.5 511.0,2035.7 503.8,2035.7" fill="#8b0000"/>
<polygon points="564.7,2007.3 568.3,2014.5 561.1,2014.5" fill="#8b0000"/>
<polygon points="621.7,2012.0 625.3,2019.2 618.1,2019.2" fill="#8b0000"/>
<polygon points="678.4,1992.6 682.0,1999.8 674.8,1999.8" fill="#8b0000"/>
<polygon points="735.4,2012.9 739.0,2020.1 731.8,2020.1" fill="#8b0000"/>
<line x1="507.4" y1="2024.9" x2="507.4" y2="2042.0" stroke="#1a1a1a" stroke-width="2.0"/>
<line x1="504.5" y1="2024.9" x2="510.3" y2="2024.9" stroke="#1a1a1a" stroke-width="2.0"/>
<line x1="504.5" y1="2042.0" x2="510.3" y2="2042.0" stroke="#1a1a1a" stroke-width="2.0"/>
<line x1="564.7" y1="2023.0" x2="564.7" y2="2033.5" stroke="#1a1a1a" stroke-width="2.0"/>
<line x1="561.8" y1="2023.0" x2="567.6" y2="2023.0" stroke="#1a1a1a" stroke-width="2.0"/>
<line x1="561.8" y1="2033.5" x2="567.6" y2="2033.5" stroke="#1a1a1a" stroke-width="2.0"/>
<line x1="621.7" y1="2022.0" x2="621.7" y2="2033.0" stroke="#1a1a1a" stroke-width="2.0"/>
<line x1="618.8" y1="2022.0" x2="624.6" y2="2022.0" stroke="#1a1a1a" stroke-width="2.0"/>
<line x1="618.8" y1="2033.0" x2="624.6" y2="2033.0" stroke="#1a1a1a" stroke-width="2.0"/>
<polyline points="507.4,2032.7 564.7,2028.3 621.7,2027.4 678.4,2031.1 735.4,2034.2" fill="none" stroke="#000080" stroke-width="3.2"/>
<ellipse cx="507.4" cy="2032.7" rx="4.4" ry="5.0" fill="#9a9a9a"/>
<ellipse cx="507.4" cy="2032.7" rx="2.4" ry="3.4" fill="#000080"/>
<ellipse cx="564.7" cy="2028.3" rx="4.4" ry="5.0" fill="#9a9a9a"/>
<ellipse cx="564.7" cy="2028.3" rx="2.4" ry="3.4" fill="#000080"/>
<ellipse cx="621.7" cy="2027.4" rx="4.4" ry="5.0" fill="#9a9a9a"/>
<ellipse cx="621.7" cy="2027.4" rx="2.4" ry="3.4" fill="#000080"/>
<ellipse cx="678.4" cy="2031.1" rx="4.4" ry="5.0" fill="#9a9a9a"/>
<ellipse cx="678.4" cy="2031.1" rx="2.4" ry="3.4" fill="#000080"/>
<ellipse cx="735.4" cy="2034.2" rx="4.4" ry="5.0" fill="#9a9a9a"/>
<ellipse cx="735.4" cy="2034.2" rx="2.4" ry="3.4" fill="#000080"/>
<line x1="507.4" y1="2002.0" x2="507.4" y2="2010.5" stroke="#1a1a1a" stroke-width="2.0"/>
<line x1="504.5" y1="2002.0" x2="510.3" y2="2002.0" stroke="#1a1a1a" stroke-width="2.0"/>
<line x1="504.5" y1="2010.5" x2="510.3" y2="2010.5" stroke="#1a1a1a" stroke-width="2.0"/>
<line x1="564.7" y1="1937.6" x2="564.7" y2="1967.2" stroke="#1a1a1a" stroke-width="2.0"/>
<line x1="561.8" y1="1937.6" x2="567.6" y2="1937.6" stroke="#1a1a1a" stroke-width="2.0"/>
<line x1="561.8" y1="1967.2" x2="567.6" y2="1967.2" stroke="#1a1a1a" stroke-width="2.0"/>
<line x1="621.7" y1="1875.7" x2="621.7" y2="1912.7" stroke="#1a1a1a" stroke-width="2.0"/>
<line x1="618.8" y1="1875.7" x2="624.6" y2="1875.7" stroke="#1a1a1a" stroke-width="2.0"/>
<line x1="618.8" y1="1912.7" x2="624.6" y2="1912.7" stroke="#1a1a1a" stroke-width="2.0"/>
<line x1="678.4" y1="1740.8" x2="678.4" y2="1764.1" stroke="#1a1a1a" stroke-width="2.0"/>
<line x1="675.5" y1="1740.8" x2="681.3" y2="1740.8" stroke="#1a1a1a" stroke-width="2.0"/>
<line x1="675.5" y1="1764.1" x2="681.3" y2="1764.1" stroke="#1a1a1a" stroke-width="2.0"/>
<polyline points="507.4,2006.2 564.7,1954.8 621.7,1894.0 678.4,1753.2 735.4,1964.7" fill="none" stroke="#ee3a43" stroke-width="2"/>
<rect x="600.0" y="1817.3" width="160.0" height="24.5" fill="#fff"/>
<rect x="504.5" y="2001.9" width="5.8" height="8.6" fill="#ee3a43"/>
<rect x="561.8" y="1950.5" width="5.8" height="8.6" fill="#ee3a43"/>
<rect x="618.8" y="1889.7" width="5.8" height="8.6" fill="#ee3a43"/>
<rect x="675.5" y="1748.9" width="5.8" height="8.6" fill="#ee3a43"/>
<rect x="732.5" y="1960.4" width="5.8" height="8.6" fill="#ee3a43"/>
<line x1="564.7" y1="1943.9" x2="564.7" y2="1962.6" stroke="#1a1a1a" stroke-width="2.0"/>
<line x1="561.8" y1="1943.9" x2="567.6" y2="1943.9" stroke="#1a1a1a" stroke-width="2.0"/>
<line x1="561.8" y1="1962.6" x2="567.6" y2="1962.6" stroke="#1a1a1a" stroke-width="2.0"/>
<line x1="621.7" y1="1932.6" x2="621.7" y2="1937.6" stroke="#1a1a1a" stroke-width="2.0"/>
<line x1="618.8" y1="1932.6" x2="624.6" y2="1932.6" stroke="#1a1a1a" stroke-width="2.0"/>
<line x1="618.8" y1="1937.6" x2="624.6" y2="1937.6" stroke="#1a1a1a" stroke-width="2.0"/>
<line x1="678.4" y1="1953.2" x2="678.4" y2="1986.9" stroke="#1a1a1a" stroke-width="2.0"/>
<line x1="675.5" y1="1953.2" x2="681.3" y2="1953.2" stroke="#1a1a1a" stroke-width="2.0"/>
<line x1="675.5" y1="1986.9" x2="681.3" y2="1986.9" stroke="#1a1a1a" stroke-width="2.0"/>
<polyline points="507.4,2012.4 564.7,1952.3 621.7,1935.1 678.4,1970.4 735.4,2002.1" fill="none" stroke="#0000ff" stroke-width="3"/>
<polygon points="507.4,2007.8 510.8,2012.4 507.4,2017.0 504.0,2012.4" fill="#0000ff"/>
<polygon points="564.7,1947.7 568.1,1952.3 564.7,1956.9 561.3,1952.3" fill="#0000ff"/>
<polygon points="621.7,1930.5 625.1,1935.1 621.7,1939.7 618.3,1935.1" fill="#0000ff"/>
<polygon points="678.4,1965.8 681.8,1970.4 678.4,1975.0 675.0,1970.4" fill="#0000ff"/>
<polygon points="735.4,1997.5 738.8,2002.1 735.4,2006.7 732.0,2002.1" fill="#0000ff"/>
<line x1="469.2" y1="1729.9" x2="469.2" y2="1814.5" stroke="#000" stroke-width="1.9"/>
<line x1="469.4" y1="1837.0" x2="469.4" y2="2043.0" stroke="#000" stroke-width="2.2"/>
<line x1="465.9" y1="1824.9" x2="475.3" y2="1812.4" stroke="#000" stroke-width="1.8"/>
<line x1="465.9" y1="1844.5" x2="475.9" y2="1832.7" stroke="#000" stroke-width="1.8"/>
<line x1="465.2" y1="1747.9" x2="469.4" y2="1747.9" stroke="#000" stroke-width="1.9"/>
<line x1="465.2" y1="1782.2" x2="469.4" y2="1782.2" stroke="#000" stroke-width="1.9"/>
<line x1="464.8" y1="1891.8" x2="469.4" y2="1891.8" stroke="#000" stroke-width="2.1"/>
<line x1="464.8" y1="1942.3" x2="469.4" y2="1942.3" stroke="#000" stroke-width="2.1"/>
<line x1="464.8" y1="1992.8" x2="469.4" y2="1992.8" stroke="#000" stroke-width="2.1"/>
<line x1="464.4" y1="2043.0" x2="774.4" y2="2043.0" stroke="#000" stroke-width="2.7"/>
<line x1="507.4" y1="2043.5" x2="507.4" y2="2051.4" stroke="#000" stroke-width="2"/>
<line x1="564.7" y1="2043.5" x2="564.7" y2="2051.4" stroke="#000" stroke-width="2"/>
<line x1="621.7" y1="2043.5" x2="621.7" y2="2051.4" stroke="#000" stroke-width="2"/>
<line x1="678.4" y1="2043.5" x2="678.4" y2="2051.4" stroke="#000" stroke-width="2"/>
<line x1="735.4" y1="2043.5" x2="735.4" y2="2051.4" stroke="#000" stroke-width="2"/>
<text x="460.8" y="1755.7" font-size="22.8" text-anchor="end">0.14</text>
<text x="460.8" y="1790.0" font-size="22.8" text-anchor="end">0.12</text>
<text x="460.8" y="1823.3" font-size="22.8" text-anchor="end">0.10</text>
<text x="460.8" y="1856.7" font-size="22.8" text-anchor="end">0.04</text>
<text x="460.8" y="1899.0" font-size="22.8" text-anchor="end">0.03</text>
<text x="460.8" y="1948.6" font-size="22.8" text-anchor="end">0.02</text>
<text x="460.8" y="1998.6" font-size="22.8" text-anchor="end">0.01</text>
<text x="460.8" y="2045.2" font-size="22.8" text-anchor="end">0.00</text>
<line x1="770.2" y1="1708.0" x2="791.3" y2="1708.0" stroke="#f9a0a0" stroke-width="2.6"/>
<ellipse cx="780.9" cy="1708.0" rx="3.6" ry="3.4" fill="#f9a0a0"/>
<text x="792.6" y="1715.6" font-size="21.6">Ctrl</text>
<rect x="777.8" y="1746.0" width="6.6" height="9.5" fill="#ee3a43"/>
<text x="791.0" y="1757.2" font-size="21.6">CM</text>
<line x1="770.2" y1="1792.8" x2="791.3" y2="1792.8" stroke="#8b0000" stroke-width="2.6"/>
<polygon points="780.9,1788.6 784.5,1795.8 777.3,1795.8" fill="#8b0000"/>
<text x="793.6" y="1798.7" font-size="22.6">CM+Pacritinib</text>
<line x1="770.2" y1="1835.5" x2="791.3" y2="1835.5" stroke="#9090ff" stroke-width="2.6"/>
<polygon points="777.3,1832.5 784.5,1832.5 780.9,1839.5" fill="#9090ff"/>
<text x="794.5" y="1843.3" font-size="21.6">Ctrl</text>
<line x1="770.2" y1="1877.0" x2="791.3" y2="1877.0" stroke="#0000ff" stroke-width="2.6"/>
<polygon points="780.9,1872.4 784.3,1877.0 780.9,1881.6 777.5,1877.0" fill="#0000ff"/>
<text x="795.0" y="1886.0" font-size="21.6">CM</text>
<line x1="770.2" y1="1918.6" x2="791.3" y2="1918.6" stroke="#000080" stroke-width="2.6"/>
<ellipse cx="780.9" cy="1918.6" rx="4.2" ry="5.0" fill="#9a9a9a"/>
<ellipse cx="780.9" cy="1918.6" rx="2.3" ry="3.3" fill="#000080"/>
<text x="792.6" y="1924.5" font-size="22.6">CM+Pacritinib</text>
<line x1="951.8" y1="1690.7" x2="951.8" y2="1805.8" stroke="#000" stroke-width="1.4"/>
<line x1="951.8" y1="1819.6" x2="951.8" y2="1935.2" stroke="#000" stroke-width="1.4"/>
<text x="954.6" y="1755.5" font-size="22">IP:stat3</text>
<text x="954.6" y="1884.2" font-size="22">IP:IgG</text>
</svg>
</body>
</html>
